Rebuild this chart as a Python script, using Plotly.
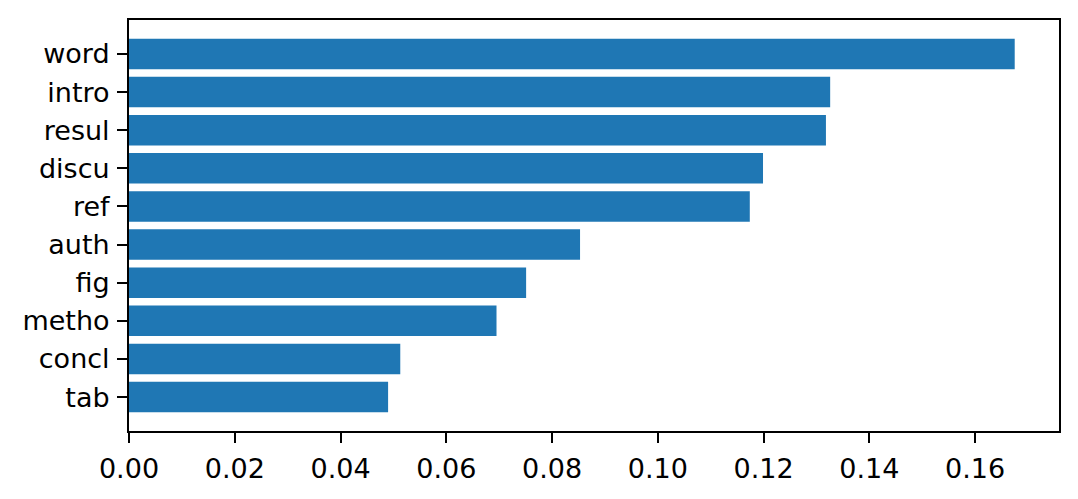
import plotly.graph_objects as go

categories = ["tab", "concl", "metho", "fig", "auth", "ref", "discu", "resul", "intro", "word"]
values = [0.0490, 0.0513, 0.0695, 0.0751, 0.0853, 0.1174, 0.1199, 0.1318, 0.1326, 0.1675]
x_ticks = [0.00, 0.02, 0.04, 0.06, 0.08, 0.10, 0.12, 0.14, 0.16]
x_tick_labels = ["0.00", "0.02", "0.04", "0.06", "0.08", "0.10", "0.12", "0.14", "0.16"]

fig = go.Figure(
    go.Bar(
        x=values,
        y=categories,
        orientation="h",
        marker=dict(color="#1f77b4", line=dict(width=0)),
        width=0.8,
    )
)

font = dict(family="DejaVu Sans", size=27, color="black")
fig.update_layout(
    template="none",
    width=1078,
    height=499,
    margin=dict(l=121, r=27, t=12, b=76, pad=0),
    plot_bgcolor="white",
    paper_bgcolor="white",
    font=font,
    showlegend=False,
    bargap=0.2,
)
common = dict(
    ticks="outside",
    ticklen=10,
    tickwidth=2,
    tickcolor="black",
    showline=True,
    linewidth=2,
    linecolor="black",
    mirror=True,
    showgrid=False,
    zeroline=False,
    tickfont=font,
    automargin=False,
)
fig.update_xaxes(
    range=[0, max(values) * 1.05],
    tickvals=x_ticks,
    ticktext=x_tick_labels,
    ticklabelstandoff=3,
    **common,
)
fig.update_yaxes(
    type="category",
    categoryorder="array",
    categoryarray=categories,
    range=[-0.89, 9.89],
    ticklabelstandoff=2,
    **common,
)

fig.write_html("out.html")
